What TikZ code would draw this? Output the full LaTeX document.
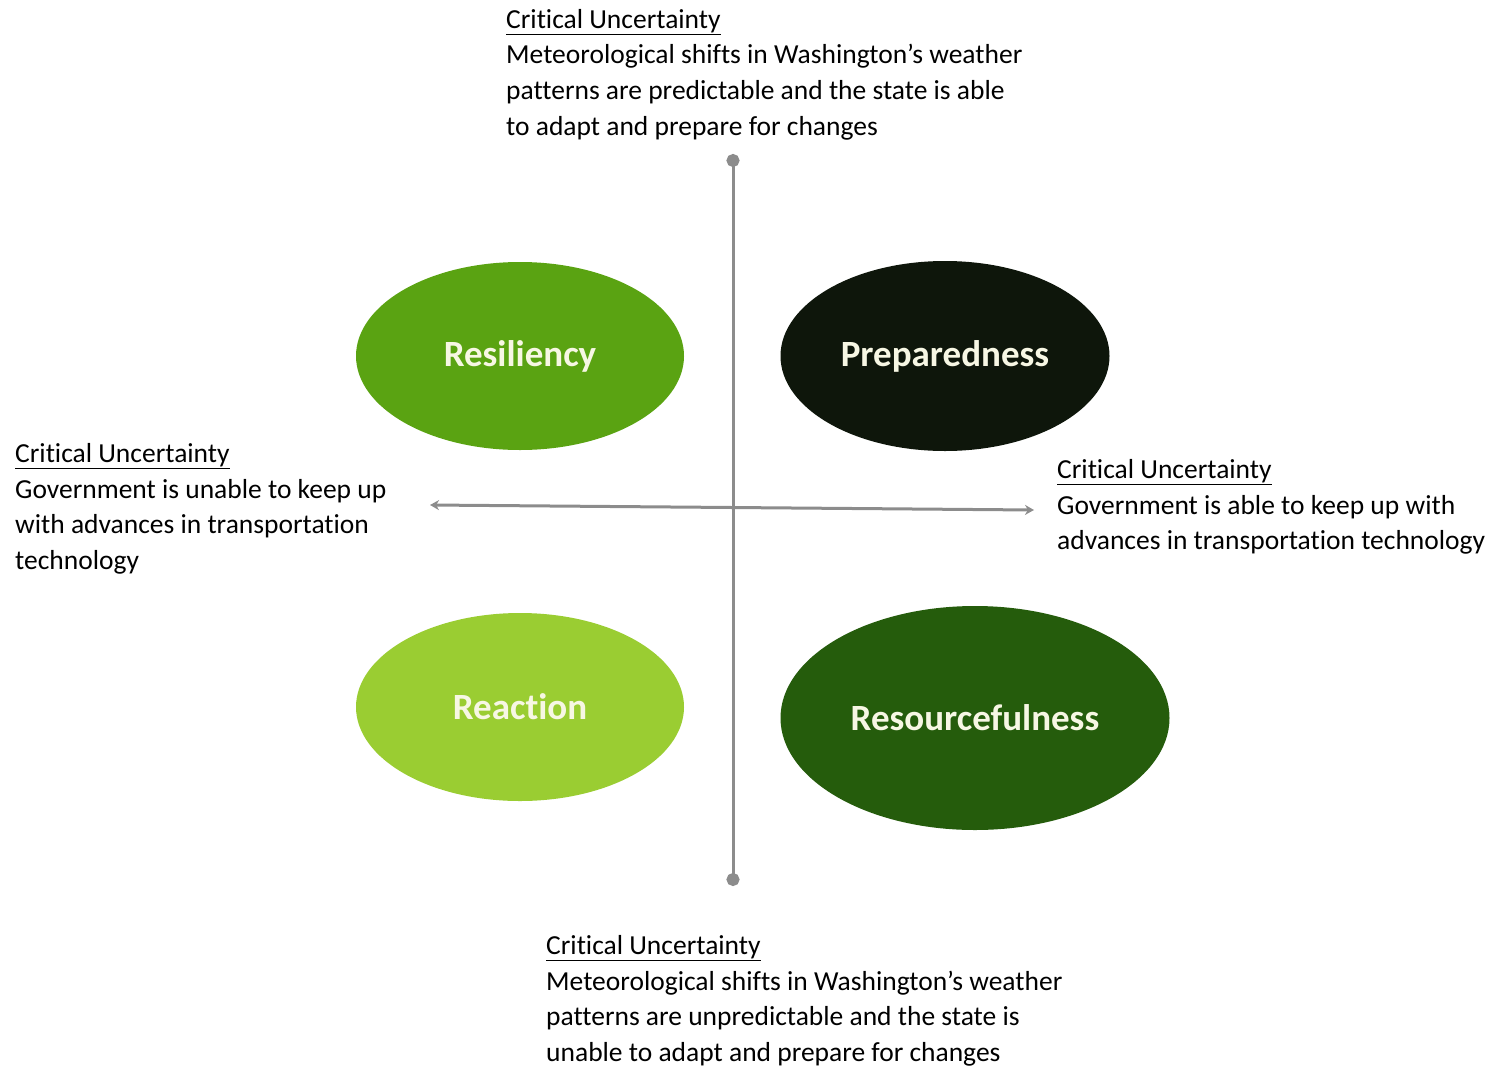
\documentclass[tikz,border=0pt]{standalone}
\usepackage{fontspec}
\setmainfont[Ligatures=NoCommon]{Carlito}
\usetikzlibrary{shapes.geometric,arrows.meta}
\definecolor{gResil}{HTML}{5AA312}
\definecolor{gPrep}{HTML}{0E160B}
\definecolor{gReact}{HTML}{9ACD32}
\definecolor{gResou}{HTML}{255C0C}
\definecolor{axisgray}{HTML}{8C8C8C}
\definecolor{labtxt}{HTML}{F7F7E4}
\tikzset{
  quad/.style={ellipse, inner sep=0pt, text=labtxt, font=\fontsize{37}{42}\selectfont\bfseries},
  uncert/.style={anchor=north west, inner sep=0pt, align=left, text=black, font=\fontsize{27.5}{35.7}\selectfont},
  axisline/.style={draw=axisgray, line width=3pt},
}
\begin{document}
\begin{tikzpicture}[x=1pt,y=-1pt]
\useasboundingbox (0,0) rectangle (1495,1068);
% quadrant ellipses
\node[quad, fill=gResil, minimum width=328pt, minimum height=188pt] (resil) at (520,356) {Resiliency};
\node[quad, fill=gPrep, minimum width=329pt, minimum height=190pt] (prep) at (945,356) {Preparedness};
\node[quad, fill=gReact, minimum width=328pt, minimum height=188pt] (react) at (520,707) {Reaction};
\node[quad, fill=gResou, minimum width=389pt, minimum height=224pt] (resou) at (975,718) {Resourcefulness};
% axes
\coordinate (vt) at (733,154);
\coordinate (vb) at (733,886);
\coordinate (hl) at (430,505);
\coordinate (hr) at (1034,510);
\draw[axisline, {Circle[length=13pt]}-{Circle[length=13pt]}] (vt) -- (vb);
\draw[axisline, {Stealth[length=9pt,width=10pt]}-{Stealth[length=9pt,width=10pt]}] (hl) -- (hr);
% texts
\node[uncert] (ttop) at (506,9) {\underline{Critical Uncertainty}\\Meteorological shifts in Washington’s weather\\patterns are predictable and the state is able\\to adapt and prepare for changes};
\node[uncert] (tleft) at (15,443) {\underline{Critical Uncertainty}\\Government is unable to keep up\\with advances in transportation\\technology};
\node[uncert] (tright) at (1057,459) {\underline{Critical Uncertainty}\\Government is able to keep up with\\advances in transportation technology};
\node[uncert] (tbot) at (546,935) {\underline{Critical Uncertainty}\\Meteorological shifts in Washington’s weather\\patterns are unpredictable and the state is\\unable to adapt and prepare for changes};
\end{tikzpicture}
\end{document}
